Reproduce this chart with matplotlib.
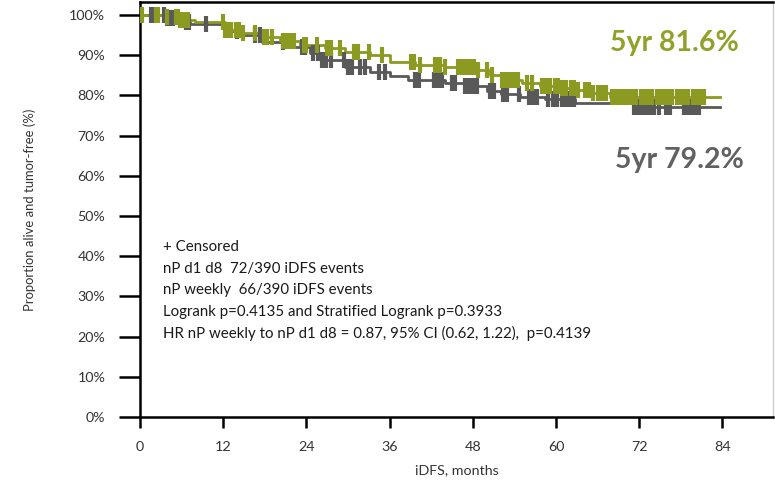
import numpy as np
import matplotlib
matplotlib.use("Agg")
import matplotlib.pyplot as plt

plt.rcParams['font.family'] = ['Lato', 'DejaVu Sans']

# step curves: time of drop (months) and survival after it (%)
weekly_t = [0, 3.6, 5.8, 7.9, 12.3, 14.4, 17.6, 20.2, 23.1, 26.7, 29.6, 33.2, 36.1,
            39.7, 44.0, 48.8, 50.5, 52.0, 55.1, 57.7, 60.6, 62.8, 65.2, 67.8, 83.7]
weekly_s = [100, 99.5, 98.8, 98.3, 96.3, 95.5, 94.5, 93.5, 92.5, 91.8, 90.8, 90.0, 88.3,
            87.6, 87.1, 86.3, 85.1, 83.8, 83.1, 82.3, 81.8, 81.3, 80.6, 79.6, 79.6]
d1d8_t = [0, 3.6, 5.0, 7.2, 12.3, 14.4, 17.6, 21.6, 24.5, 26.3, 29.6, 33.2, 36.1,
          38.7, 44.0, 46.9, 50.1, 52.0, 54.8, 58.4, 62.8, 71.1, 83.7]
d1d8_s = [100, 99.3, 98.3, 97.8, 96.0, 95.0, 93.3, 92.0, 90.5, 88.8, 87.1, 85.8, 84.8,
          83.8, 83.1, 82.3, 81.1, 80.3, 79.6, 79.1, 78.0, 77.0, 77.0]

# censoring times (months)
weekly_cens = [0.1, 0.3, 2.3, 2.6, 3.9, 5.2, 5.5, 5.8, 6.1, 6.3, 6.6, 6.9, 12.0, 12.3,
               12.6, 12.8, 13.1, 13.9, 14.3, 14.9, 16.6, 17.9, 18.3, 19.0, 20.6, 21.1,
               21.6, 22.2, 23.7, 24.0, 25.5, 27.0, 27.6, 28.9, 30.9, 31.5, 33.0, 34.9,
               39.1, 39.5, 40.4, 42.6, 42.9, 43.3, 44.0, 45.9, 46.5, 47.0, 47.6, 48.2,
               48.8, 50.1, 50.8, 52.2, 52.8, 53.4, 54.0, 54.5, 55.8, 56.6, 58.0, 58.6,
               59.2, 59.8, 60.3, 60.9, 61.5, 62.1, 62.6, 63.2, 64.2, 64.8, 65.4, 66.0,
               66.6, 67.2, 68.1, 68.7, 69.3, 69.8, 70.4, 71.0, 71.6, 72.2, 72.7, 73.3,
               73.9, 74.5, 75.0, 75.6, 76.2, 76.8, 77.4, 77.9, 78.5, 79.1, 79.7, 80.3,
               80.8, 81.4]
d1d8_cens = [1.6, 1.9, 3.5, 3.9, 4.3, 4.8, 6.6, 7.1, 9.5, 14.0, 16.6, 17.3, 20.6, 23.4,
             23.8, 25.0, 25.7, 26.3, 26.8, 27.6, 29.4, 30.0, 30.6, 31.7, 32.5, 34.5,
             35.4, 39.7, 40.3, 42.4, 43.0, 43.6, 45.0, 45.5, 46.9, 47.5, 48.1, 48.6,
             50.5, 51.1, 52.4, 53.0, 54.7, 56.1, 56.7, 57.3, 58.9, 59.5, 60.2, 60.8,
             61.4, 62.0, 62.6, 71.3, 71.9, 72.4, 73.0, 73.6, 74.2, 74.8, 75.8, 76.4,
             78.4, 78.9, 79.5, 80.1, 80.7]

GREEN = '#8c9a21'
GRAY = '#595959'

notes = ["+ Censored",
         "nP d1 d8  72/390 iDFS events",
         "nP weekly  66/390 iDFS events",
         "Logrank p=0.4135 and Stratified Logrank p=0.3933",
         "HR nP weekly to nP d1 d8 = 0.87, 95% CI (0.62, 1.22),  p=0.4139"]


def step_at(t, times, surv):
    idx = np.searchsorted(times, t, side='right') - 1
    return np.asarray(surv)[idx]


fig = plt.figure(figsize=(7.75, 4.83), dpi=100)
ax = fig.add_axes([0.1806, 0.1366, 0.8168, 0.8593])

for times, surv, cens, col in [(d1d8_t, d1d8_s, d1d8_cens, GRAY),
                               (weekly_t, weekly_s, weekly_cens, GREEN)]:
    ax.step(times, surv, where='post', color=col, lw=2.0, zorder=3)
    ax.plot(cens, step_at(np.array(cens), times, surv), ls='none', marker='|',
            ms=12, mew=3.0, color=col, zorder=4)

ax.set_xlim(0, 91.3)
ax.set_ylim(0, 103.2)
ax.set_xticks(np.arange(0, 85, 12))
ax.set_yticks(np.arange(0, 101, 10))
ax.set_yticklabels([f"{v}%" for v in range(0, 101, 10)])
ax.tick_params(axis='y', direction='out', length=15, width=1.8, pad=10, labelsize=10.3,
               labelcolor='#333333')
ax.tick_params(axis='x', direction='out', length=8, width=1.8, pad=9, labelsize=10.3,
               labelcolor='#333333')
for s in ['left', 'bottom', 'top']:
    ax.spines[s].set_linewidth(1.8)
ax.spines['right'].set_color('#cccccc')
ax.spines['right'].set_linewidth(1)

ax.set_ylabel("Proportion alive and tumor-free (%)", fontsize=9.4, color='#333333',
              labelpad=24)
ax.set_xlabel("iDFS, months", fontsize=10.3, color='#333333', labelpad=8)

ax.text(77.1, 93.0, "5yr 81.6%", color='#93a02a', fontsize=20.5, fontweight='bold',
        ha='center', va='center')
ax.text(77.8, 63.9, "5yr 79.2%", color='#616161', fontsize=20.5, fontweight='bold',
        ha='center', va='center')

for i, line in enumerate(notes):
    ax.text(3.3, 42.2 - i * 5.35, line, fontsize=10.8, color='#1a1a1a', va='center',
            ha='left')

fig.savefig("out.png", dpi=100)
